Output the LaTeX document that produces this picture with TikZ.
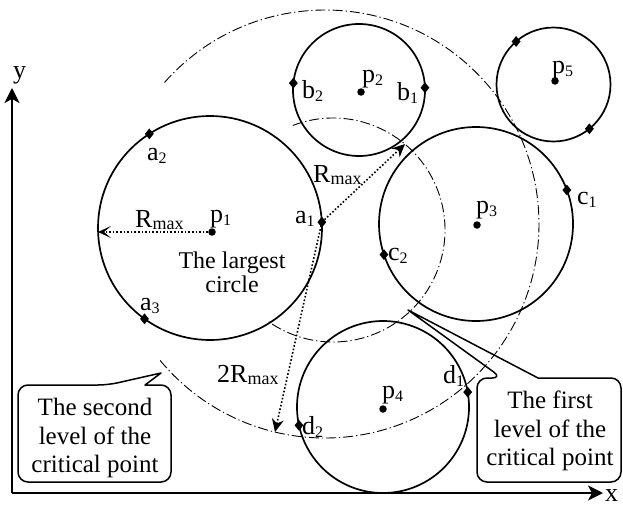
\documentclass[tikz,border=0pt]{standalone}
\usepackage{fontspec}
\setmainfont{Liberation Serif}
\usetikzlibrary{arrows.meta,calc,shapes.geometric}
\newcommand\lsub[1]{\raisebox{-3pt}{\fontsize{16}{16}\selectfont #1}}
\newcommand\msub[1]{\raisebox{-2.5pt}{\fontsize{18}{18}\selectfont #1}}
\begin{document}
\begin{tikzpicture}[x=1pt,y=-1pt,
  circ/.style={line width=1.7pt},
  lvl/.style={line width=0.9pt, dash pattern=on 10pt off 3pt on 1.2pt off 3pt},
  dmd/.style={diamond, fill=black, inner sep=0pt, minimum width=9pt, minimum height=11pt},
  ctr/.style={circle, fill=black, inner sep=0pt, minimum size=7.5pt},
  lbl/.style={inner sep=0pt, font=\fontsize{26}{28}\selectfont, anchor=base west},
  txt/.style={inner sep=0pt, font=\fontsize{25}{28.5}\selectfont, align=center},
  rarrowA/.style={line width=1.6pt, dotted, -{Stealth[length=13pt,width=12pt,inset=7pt]}},
  rarrowB/.style={line width=1.6pt, dotted, -{Stealth[length=13pt,width=12pt]}},
  axis/.style={line width=1.5pt, -{Stealth[length=15pt,width=15pt,inset=4pt]}},
  callout/.style={line width=1.5pt, line join=round}
]
\useasboundingbox (0,0) rectangle (623,506);
\fill[white] (0,0) rectangle (623,506);

% centres
\coordinate (C1) at (210,228);
\coordinate (C2) at (359,90);
\coordinate (C3) at (476,224);
\coordinate (C4) at (383,407);
\coordinate (C5) at (553.5,84.5);
\coordinate (L1) at (333,230);
\coordinate (L2) at (325,224);

% level arcs
\draw[lvl] ($(L2)+(-138.6:214)$) arc[start angle=-138.6, end angle=141, radius=214];
\draw[lvl] ($(L1)+(-111:112)$) arc[start angle=-111, end angle=125, radius=112];

% circles
\draw[circ] (C1) circle[radius=112];
\draw[circ] (C2) circle[radius=66];
\draw[circ] (C3) circle[radius=97];
\draw[circ] (C4) circle[radius=86];
\draw[circ] (C5) circle[radius=57];

% axes
\coordinate (O) at (12,493);
\coordinate (Y) at (12,88);
\coordinate (X) at (603,493);
\draw[axis] (O) -- (Y);
\draw[axis] (O) -- (X);
\node[lbl] (ly) at (13,78) {y};
\node[lbl] (lx) at (605,501) {x};

% centres dots
\node[ctr] (p1) at (212,232) {};
\node[ctr] (p2) at (361,92) {};
\node[ctr] (p3) at (477,225) {};
\node[ctr] (p4) at (383,409) {};
\node[ctr] (p5) at (555,81) {};

% diamonds
\node[dmd] (a1) at ($(C1)+(-3:112)$) {};
\node[dmd] (a2) at ($(C1)+(-122.8:112)$) {};
\node[dmd] (a3) at ($(C1)+(125.8:112)$) {};
\node[dmd] (b2) at ($(C2)+(186:66)$) {};
\node[dmd] (b1) at ($(C2)+(-2:66)$) {};
\node[dmd] (c2) at ($(C3)+(161.6:97)$) {};
\node[dmd] (c1) at ($(C3)+(-20.5:97)$) {};
\node[dmd] (d2) at ($(C4)+(167.7:86)$) {};
\node[dmd] (d1) at ($(C4)+(-10:86)$) {};
\node[dmd] (q1) at ($(C5)+(-131:57)$) {};
\node[dmd] (q2) at ($(C5)+(51:57)$) {};

% radius arrows
\coordinate (e1) at (98,232);
\coordinate (e2) at (405,144);
\coordinate (e3) at (275,432);
\draw[rarrowA] (p1) -- (e1);
\draw[rarrowB] (a1.center) -- (e2);
\draw[rarrowB] (a1.center) -- (e3);

% labels
\node[lbl] (la2) at (147,160) {a\lsub{2}};
\node[lbl] (lp1) at (210,222) {p\lsub{1}};
\node[lbl] (lr1) at (135,227) {R\msub{max}};
\node[lbl] (la1) at (295,223) {a\lsub{1}};
\node[lbl] (la3) at (140,310) {a\lsub{3}};
\node[lbl] (lb2) at (302,98) {b\lsub{2}};
\node[lbl] (lp2) at (362,82) {p\lsub{2}};
\node[lbl] (lb1) at (397,100) {b\lsub{1}};
\node[lbl] (lp5) at (552,73) {p\lsub{5}};
\node[lbl] (lr2) at (313,182) {R\msub{max}};
\node[lbl] (lc1) at (577,204) {c\lsub{1}};
\node[lbl] (lp3) at (476,213) {p\lsub{3}};
\node[lbl] (lc2) at (388,260) {c\lsub{2}};
\node[lbl] (lr3) at (217,382) {2R\msub{max}};
\node[lbl] (ld1) at (443,383) {d\lsub{1}};
\node[lbl] (lp4) at (382,398) {p\lsub{4}};
\node[lbl] (ld2) at (302,434) {d\lsub{2}};

\node[inner sep=0pt, font=\fontsize{24}{24}\selectfont, align=center] (tl) at (232,272.5) {The largest\\circle};

% callouts
\draw[callout] (145,385) [rounded corners=10pt] -- (171,385) -- (171,482) -- (18,482) -- (18,385) -- (108,385) [sharp corners] -- (161,373) -- cycle;
\node[txt] (t2) at (95,438) {The second\\level of the\\critical point};
\draw[callout] (538,378) [rounded corners=10pt] -- (621,378) -- (621,482) -- (477,482) -- (477,378) -- (502,378) [sharp corners] -- (408,310) -- cycle;
\node[txt] (t1) at (550,431) {The first\\level of the\\critical point};
\end{tikzpicture}
\end{document}
